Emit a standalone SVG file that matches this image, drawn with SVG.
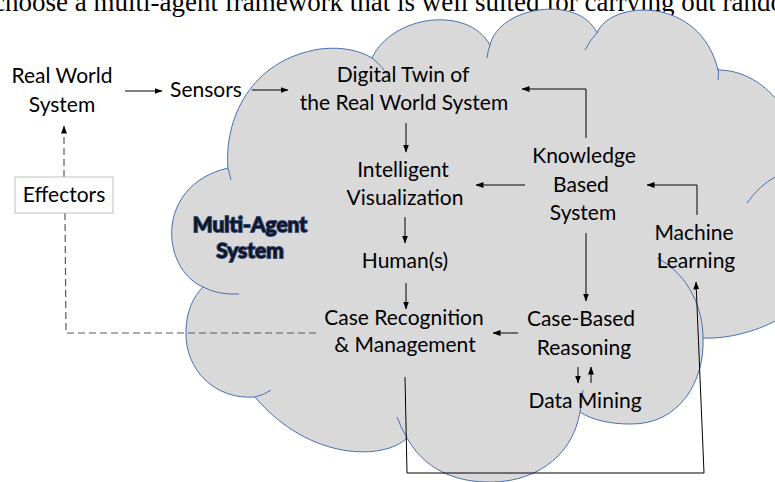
<svg xmlns="http://www.w3.org/2000/svg" width="775" height="482" viewBox="0 0 775 482">
<defs>
<marker id="arr" markerUnits="userSpaceOnUse" markerWidth="8" markerHeight="6" refX="7.5" refY="3" orient="auto">
<path d="M0,0 L8,3 L0,6 z" fill="#000"/>
</marker>
<style>
.t{font-family:Lato,"Open Sans","Liberation Sans",sans-serif;font-size:21px;fill:#000;text-anchor:middle}
.c{fill:none;stroke:#000;stroke-width:1}
.d{fill:none;stroke:#595959;stroke-width:1.2;stroke-dasharray:7 4}
.cl{fill:#D9D9D9;stroke:#4A6FB0;stroke-width:1}
.ex{fill:none;stroke:#4A6FB0;stroke-width:1}
.mas{font-family:Lato,"Liberation Sans",sans-serif;font-weight:bold;font-size:21px;fill:#0F1525;stroke:#3A4F7A;stroke-width:1.8;paint-order:stroke;text-anchor:middle}
</style>
</defs>
<rect width="775" height="482" fill="#fff"/>
<text x="-7" y="11" style="font-family:'Liberation Serif',serif;font-size:27px;fill:#000">choose a multi-agent framework that is well suited for carrying out random</text>
<g id="cloud">
<path class="cl" d="M203,287 C160,268 155,185 228,168 C224,120 250,60 320,49 C345,46 362,52 372,58 C392,15 468,5 490,45 C500,5 580,-5 597,33 C610,0 700,-5 718,70 C760,70 800,110 800,170 L800,300 C790,320 740,340 703,338 C705,380 680,425 630,424 C610,424 592,420 580,412 C572,460 530,484 485,482 C455,481 425,470 407,438 C385,460 310,462 255,397 C215,400 185,370 186,332 C186,312 193,297 203,287 Z"/>
<path class="ex" d="M203,287 Q218,295 239,294"/>
<path class="ex" d="M255,397 Q264,395 271,390"/>
<path class="ex" d="M407,438 Q401,428 397,417"/>
<path class="ex" d="M580,412 Q582,400 583,390"/>
<path class="ex" d="M703,338 C703,310 690,275 657,258"/>
<path class="ex" d="M747,203 Q760,185 775,177"/>
<path class="ex" d="M718,68 Q719,74 718,80"/>
<path class="ex" d="M585,50 Q590,40 597,33"/>
<path class="ex" d="M487,58 Q488,50 490,45"/>
<path class="ex" d="M372,58 Q383,66 390,80"/>
<path class="ex" d="M228,168 L231,180"/>
</g>
<g id="connectors">
<line class="c" x1="125" y1="91" x2="162" y2="91" marker-end="url(#arr)"/>
<line class="c" x1="252" y1="90" x2="288" y2="90" marker-end="url(#arr)"/>
<line class="c" x1="406" y1="123" x2="406" y2="152" marker-end="url(#arr)"/>
<polyline class="c" points="586,138 586,89 522,89" marker-end="url(#arr)"/>
<line class="c" x1="525" y1="185" x2="476" y2="185" marker-end="url(#arr)"/>
<polyline class="c" points="697,215 697,185 647,185" marker-end="url(#arr)"/>
<line class="c" x1="405" y1="217" x2="405" y2="243" marker-end="url(#arr)"/>
<line class="c" x1="406" y1="283" x2="406" y2="309" marker-end="url(#arr)"/>
<line class="c" x1="586" y1="233" x2="586" y2="301" marker-end="url(#arr)"/>
<line class="c" x1="518" y1="333" x2="493" y2="333" marker-end="url(#arr)"/>
<line class="c" x1="578" y1="367" x2="578" y2="383" marker-end="url(#arr)"/>
<line class="c" x1="591" y1="383" x2="591" y2="367" marker-end="url(#arr)"/>
<polyline class="c" points="405,377 407,473 704,473 696,282" marker-end="url(#arr)"/>
<polyline class="d" points="316,333 66,333 65,213"/>
<line class="d" x1="64" y1="177" x2="64" y2="126" marker-end="url(#arr)"/>
</g>
<g id="real-world"><text class="t" x="62" y="83">Real World</text><text class="t" x="62" y="112">System</text></g>
<g id="sensors"><text class="t" x="206" y="97">Sensors</text></g>
<g id="effectors"><rect x="15" y="177" width="98" height="36" fill="#fff" stroke="#BFBFBF" stroke-width="1"/><text class="t" x="64" y="202">Effectors</text></g>
<g id="digital-twin"><text class="t" x="403" y="82">Digital Twin of</text><text class="t" x="404" y="110">the Real World System</text></g>
<g id="intelligent-vis"><text class="t" x="403" y="177">Intelligent</text><text class="t" x="405" y="205">Visualization</text></g>
<g id="kbs"><text class="t" x="584" y="163">Knowledge</text><text class="t" x="581" y="192">Based</text><text class="t" x="583" y="220">System</text></g>
<g id="ml"><text class="t" x="694" y="240">Machine</text><text class="t" x="696" y="268">Learning</text></g>
<g id="humans"><text class="t" x="405" y="268">Human(s)</text></g>
<g id="case-recognition"><text class="t" x="404" y="325">Case Recognition</text><text class="t" x="405" y="352">&amp; Management</text></g>
<g id="cbr"><text class="t" x="581" y="326">Case-Based</text><text class="t" x="584" y="355">Reasoning</text></g>
<g id="data-mining"><text class="t" x="585" y="408">Data Mining</text></g>
<g id="mas"><text class="mas" x="250" y="232">Multi-Agent</text><text class="mas" x="250" y="258">System</text></g>
</svg>
